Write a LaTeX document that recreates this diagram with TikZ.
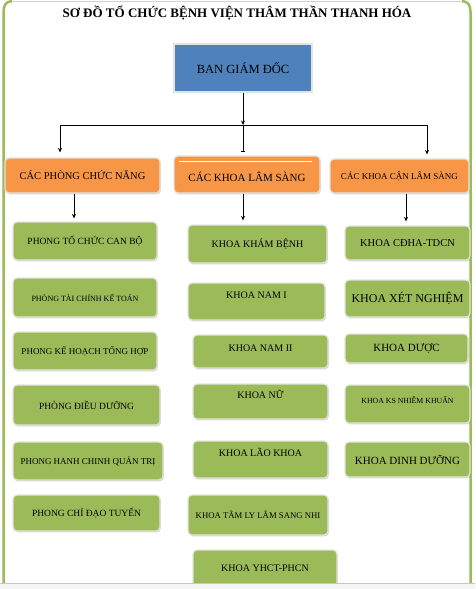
\documentclass[tikz,border=0pt]{standalone}
\usepackage{fontspec}
\setmainfont{Liberation Serif}
\usetikzlibrary{shadows,arrows.meta}
\definecolor{boardblue}{RGB}{79,129,189}
\definecolor{headorange}{RGB}{247,150,70}
\definecolor{unitgreen}{RGB}{155,187,89}
\definecolor{rimgray}{RGB}{228,228,222}
\newcommand{\fs}[1]{\fontsize{#1}{#1}\selectfont}
\begin{document}
\begin{tikzpicture}[x=1pt,y=-1pt,
    box/.style={rectangle, rounded corners=4pt, draw=rimgray, line width=1.2pt,
      inner sep=0pt, text=black,
      drop shadow={opacity=0.35, shadow xshift=0.8pt, shadow yshift=-1.3pt}},
    board/.style={box, rounded corners=0pt, fill=boardblue},
    head/.style={box, fill=headorange},
    dept/.style={box, fill=unitgreen},
    wire/.style={black, line width=0.8pt},
    arr/.style={wire, -{Stealth[length=4.5pt,width=4pt]}},
    frame/.style={unitgreen, line width=2.5pt}]
  \useasboundingbox (0,0) rectangle (475,589);
  \fill[white] (0,0) rectangle (475,589);
  % outer frame
  \draw[frame] (3.5,583) -- (3.5,12) .. controls (3.5,5) and (6,1.5) .. (12,1);
  \draw[frame] (470.5,583) -- (470.5,12) .. controls (470.5,5) and (468,1.5) .. (462,1);
  \draw[gray!35, line width=0.6pt] (12,1) -- (462,1);
  \node[font=\bfseries\fs{13}] (title) at (237,13) {SƠ ĐỒ TỔ CHỨC BỆNH VIỆN THÂM THẦN THANH HÓA};
  % board and headers
  \node[board, minimum width=138pt, minimum height=48pt, font=\fs{12.5}] (bgd) at (243,68) {BAN GIÁM ĐỐC};
  \node[head, minimum width=155pt, minimum height=35pt, font=\fs{10.5}] (hl) at (82.5,175.5) {CÁC PHÒNG CHỨC NĂNG};
  \node[head, minimum width=146pt, minimum height=37pt, font=\fs{11}, text height=14pt, text depth=0pt] (hm) at (247,174.5) {CÁC KHOA LÂM SÀNG};
  \draw[white, line width=0.8pt] ([xshift=6pt,yshift=-6pt]hm.north west) -- ([xshift=-9pt,yshift=-6pt]hm.north east);
  \node[head, minimum width=139pt, minimum height=34pt, font=\fs{9}] (hr) at (399.5,176) {CÁC KHOA CẬN LÂM SÀNG};
  % left column
  \node[dept, minimum width=144pt, minimum height=38pt, font=\fs{9.5}] (l1) at (85,241) {PHONG TỔ CHỨC CAN BỘ};
  \node[dept, minimum width=144pt, minimum height=39pt, font=\fs{8}] (l2) at (85,297.5) {PHÒNG TÀI CHÍNH KẾ TOÁN};
  \node[dept, minimum width=144pt, minimum height=38pt, font=\fs{9}] (l3) at (85,351) {PHONG KẾ HOẠCH TỔNG HỢP};
  \node[dept, minimum width=147pt, minimum height=40pt, font=\fs{9.5}] (l4) at (86.5,405) {PHÒNG ĐIỀU DƯỠNG};
  \node[dept, minimum width=150pt, minimum height=38pt, font=\fs{9}] (l5) at (88,461) {PHONG HANH CHINH QUẢN TRỊ};
  \node[dept, minimum width=147pt, minimum height=36pt, font=\fs{9.5}] (l6) at (86.5,513) {PHONG CHỈ ĐẠO TUYẾN};
  % middle column
  \node[dept, minimum width=139pt, minimum height=38pt, font=\fs{10}] (m1) at (257.5,244) {KHOA KHÁM BỆNH};
  \node[dept, minimum width=137pt, minimum height=37pt, font=\fs{10}, text height=7pt, text depth=13pt] (m2) at (256.5,301.5) {KHOA NAM I};
  \node[dept, minimum width=135pt, minimum height=33pt, font=\fs{10}, text height=7pt, text depth=7pt] (m3) at (260.5,351.5) {KHOA NAM II};
  \node[dept, minimum width=135pt, minimum height=35pt, font=\fs{10}, text height=7pt, text depth=13pt] (m4) at (260.5,401.5) {KHOA NỮ};
  \node[dept, minimum width=135pt, minimum height=37pt, font=\fs{10}, text height=7pt, text depth=13pt] (m5) at (260.5,459.5) {KHOA LÃO KHOA};
  \node[dept, minimum width=140pt, minimum height=40pt, font=\fs{8.7}] (m6) at (258,515) {KHOA TÂM LY LÂM SANG NHI};
  \node[dept, minimum width=144pt, minimum height=37pt, font=\fs{10}] (m7) at (265,568.5) {KHOA YHCT-PHCN};
  % right column
  \node[dept, minimum width=125pt, minimum height=34pt, font=\fs{10.5}] (r1) at (407.5,243) {KHOA CĐHA-TDCN};
  \node[dept, minimum width=125pt, minimum height=37pt, font=\fs{12}] (r2) at (407.5,298.5) {KHOA XÉT NGHIỆM};
  \node[dept, minimum width=123pt, minimum height=29pt, font=\fs{11}] (r3) at (406.5,348.5) {KHOA DƯỢC};
  \node[dept, minimum width=125pt, minimum height=38pt, font=\fs{7.8}, text height=7pt, text depth=8pt] (r4) at (407.5,404) {KHOA KS NHIỄM KHUẨN};
  \node[dept, minimum width=125pt, minimum height=35pt, font=\fs{11}] (r5) at (407.5,459.5) {KHOA DINH DƯỠNG};
  % connectors
  \coordinate (busL) at (60,125);
  \coordinate (busR) at (427,125);
  \coordinate (cl) at (74,0);
  \coordinate (cm) at (243,0);
  \coordinate (cr) at (406,0);
  \draw[wire] (busL) -- (busR);
  \draw[arr] (bgd.south) -- (bgd.south |- busL);
  \draw[wire, -{Bar[width=4pt]}, shorten >=4pt] (bgd.south |- busL) -- (hm.north -| cm);
  \draw[arr, shorten >=5pt] (busL) -- (hl.north -| busL);
  \draw[arr, shorten >=4pt] (busR) -- (hr.north -| busR);
  \draw[arr, shorten >=3pt] (hl.south -| cl) -- (l1.north -| cl);
  \draw[arr, shorten >=4pt] (hm.south -| cm) -- (m1.north -| cm);
  \draw[arr, shorten >=4pt] (hr.south -| cr) -- (r1.north -| cr);
  % page bottom
  \fill[gray!8] (0,583) rectangle (475,589);
  \draw[gray!45, line width=0.8pt] (0,583) -- (475,583);
\end{tikzpicture}
\end{document}
